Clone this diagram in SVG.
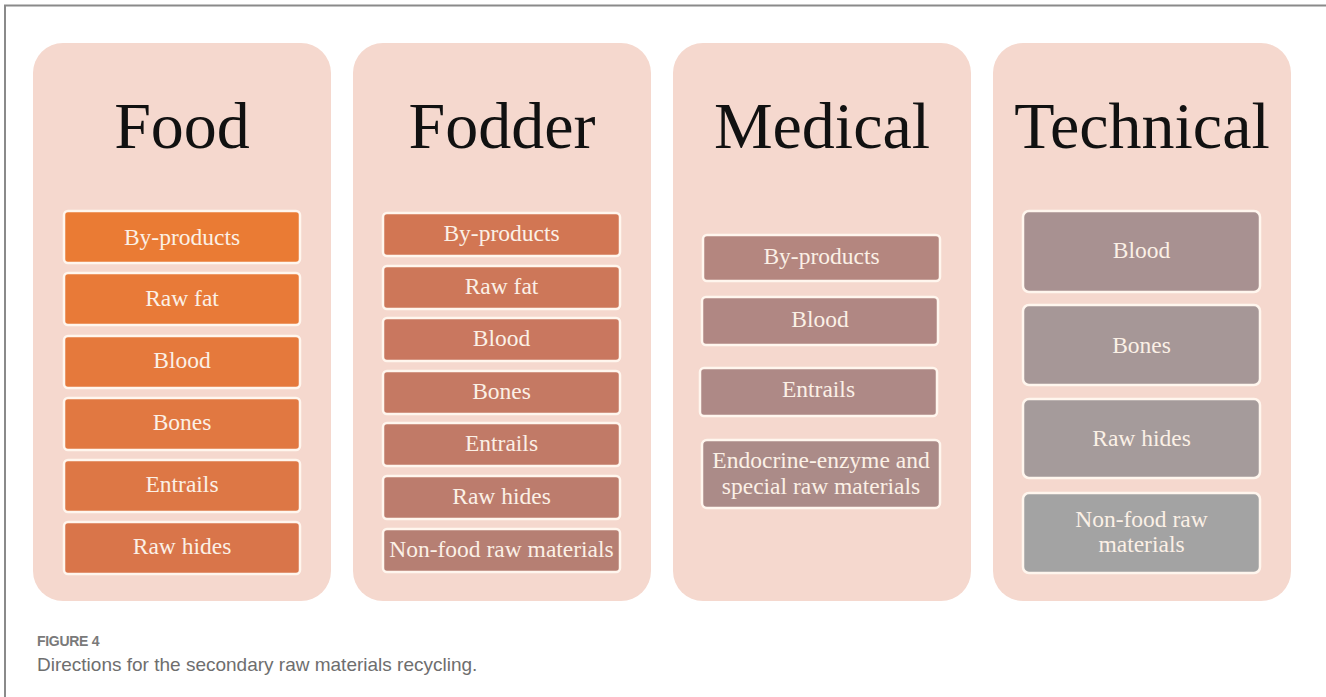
<svg xmlns="http://www.w3.org/2000/svg" width="1326" height="697" viewBox="0 0 1326 697">
<style>
.panel{fill:#F5D8CE}
.title{font-family:"Liberation Serif","Times New Roman",serif;font-size:66px;fill:#111;text-anchor:middle}
.box{stroke:#FFF6EE;stroke-width:2.5}
.lbl{font-family:"Liberation Serif","Times New Roman",serif;font-size:23.5px;fill:#FBF0E6;text-anchor:middle}
.cap1{font-family:"Liberation Sans",Arial,sans-serif;font-size:14px;fill:#7A7A7A;font-weight:bold;letter-spacing:-0.3px}
.cap2{font-family:"Liberation Sans",Arial,sans-serif;font-size:19px;fill:#6E6E6E}
</style>
<rect x="0" y="0" width="1326" height="697" fill="#FFFFFF"/>
<path d="M5 697 V5.5 H1326" fill="none" stroke="#8A8A8A" stroke-width="2"/>

<g id="food">
<rect class="panel" x="33" y="43" width="298" height="558" rx="30"/>
<text class="title" x="182" y="148">Food</text>
<g id="food-byproducts"><rect class="box" x="64" y="211" width="236" height="52" rx="4" fill="#EA7B34"/><text class="lbl" x="182" y="245">By-products</text></g>
<g id="food-rawfat"><rect class="box" x="64" y="273" width="236" height="52" rx="4" fill="#E87A38"/><text class="lbl" x="182" y="306">Raw fat</text></g>
<g id="food-blood"><rect class="box" x="64" y="336" width="236" height="52" rx="4" fill="#E5793C"/><text class="lbl" x="182" y="368">Blood</text></g>
<g id="food-bones"><rect class="box" x="64" y="398" width="236" height="52" rx="4" fill="#E17841"/><text class="lbl" x="182" y="430">Bones</text></g>
<g id="food-entrails"><rect class="box" x="64" y="460" width="236" height="52" rx="4" fill="#DD7745"/><text class="lbl" x="182" y="492">Entrails</text></g>
<g id="food-rawhides"><rect class="box" x="64" y="522" width="236" height="52" rx="4" fill="#D9754A"/><text class="lbl" x="182" y="554">Raw hides</text></g>
</g>

<g id="fodder">
<rect class="panel" x="353" y="43" width="298" height="558" rx="30"/>
<text class="title" x="502" y="148">Fodder</text>
<g id="fodder-byproducts"><rect class="box" x="383" y="213" width="237" height="43" rx="4" fill="#D27653"/><text class="lbl" x="501.5" y="241">By-products</text></g>
<g id="fodder-rawfat"><rect class="box" x="383" y="266" width="237" height="43" rx="4" fill="#CD7759"/><text class="lbl" x="501.5" y="294">Raw fat</text></g>
<g id="fodder-blood"><rect class="box" x="383" y="318" width="237" height="43" rx="4" fill="#C9775F"/><text class="lbl" x="501.5" y="346">Blood</text></g>
<g id="fodder-bones"><rect class="box" x="383" y="371" width="237" height="43" rx="4" fill="#C57963"/><text class="lbl" x="501.5" y="399">Bones</text></g>
<g id="fodder-entrails"><rect class="box" x="383" y="423" width="237" height="43" rx="4" fill="#C17A67"/><text class="lbl" x="501.5" y="451">Entrails</text></g>
<g id="fodder-rawhides"><rect class="box" x="383" y="476" width="237" height="43" rx="4" fill="#BC7C6D"/><text class="lbl" x="501.5" y="504">Raw hides</text></g>
<g id="fodder-nonfood"><rect class="box" x="383" y="529" width="237" height="43" rx="4" fill="#B67F73"/><text class="lbl" x="501.5" y="557">Non-food raw materials</text></g>
</g>

<g id="medical">
<rect class="panel" x="673" y="43" width="298" height="558" rx="30"/>
<text class="title" x="822" y="148">Medical</text>
<g id="medical-byproducts"><rect class="box" x="703" y="235" width="237" height="46" rx="4" fill="#B4867F"/><text class="lbl" x="821.5" y="264">By-products</text></g>
<g id="medical-blood"><rect class="box" x="702" y="297" width="236" height="48" rx="4" fill="#B08783"/><text class="lbl" x="820" y="327">Blood</text></g>
<g id="medical-entrails"><rect class="box" x="700" y="368" width="237" height="48" rx="4" fill="#AE8986"/><text class="lbl" x="818.5" y="397">Entrails</text></g>
<g id="medical-endocrine"><rect class="box" x="702" y="440" width="238" height="68" rx="5" fill="#AB8B88"/><text class="lbl" x="821" y="468">Endocrine-enzyme and</text><text class="lbl" x="821" y="494">special raw materials</text></g>
</g>

<g id="technical">
<rect class="panel" x="993" y="43" width="298" height="558" rx="30"/>
<text class="title" x="1142" y="148">Technical</text>
<g id="technical-blood"><rect class="box" x="1023" y="211" width="237" height="81" rx="6" fill="#A89191"/><text class="lbl" x="1141.5" y="258">Blood</text></g>
<g id="technical-bones"><rect class="box" x="1023" y="305" width="237" height="80" rx="6" fill="#A69797"/><text class="lbl" x="1141.5" y="353">Bones</text></g>
<g id="technical-rawhides"><rect class="box" x="1023" y="399" width="237" height="79" rx="6" fill="#A59B9B"/><text class="lbl" x="1141.5" y="446">Raw hides</text></g>
<g id="technical-nonfood"><rect class="box" x="1023" y="493" width="237" height="80" rx="6" fill="#A3A3A3"/><text class="lbl" x="1141.5" y="527">Non-food raw</text><text class="lbl" x="1141.5" y="552">materials</text></g>
</g>

<g id="connectors"></g>

<text class="cap1" x="37" y="646">FIGURE 4</text>
<text class="cap2" x="37" y="671">Directions for the secondary raw materials recycling.</text>
</svg>
